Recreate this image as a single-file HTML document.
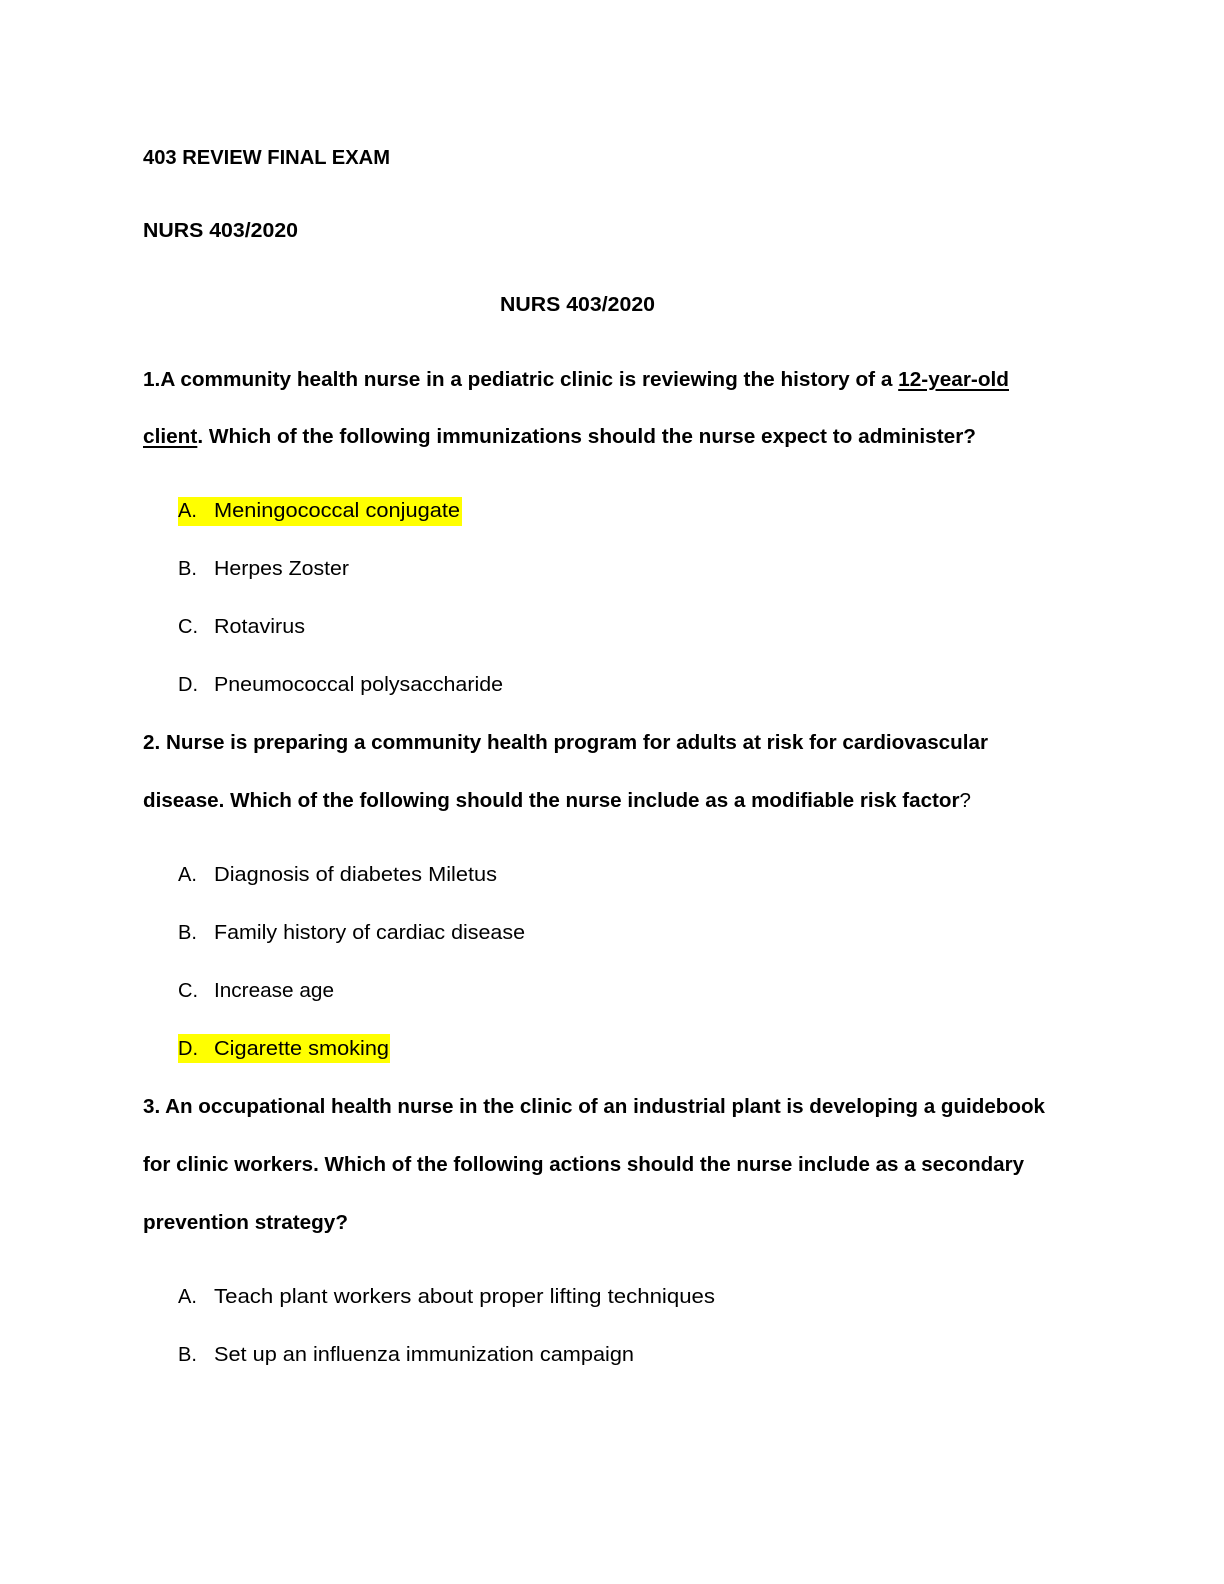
<!DOCTYPE html>
<html><head><meta charset="utf-8">
<style>
html,body{margin:0;padding:0;background:#fff;}
body{width:1224px;height:1584px;position:relative;overflow:hidden;font-family:"Liberation Sans",Arial,sans-serif;color:#000;}
.l{position:absolute;font-size:20px;line-height:28px;white-space:nowrap;transform-origin:0 50%;}
.b{font-weight:bold;}
.k{position:absolute;font-size:20px;line-height:28px;}
.hl{position:absolute;background:#ffff00;}
u{text-decoration-thickness:1.5px;text-underline-offset:3px;}
</style></head><body>
<div class="hl" style="left:178px;top:497px;width:284px;height:29px"></div>
<div class="hl" style="left:178px;top:1034px;width:212px;height:29px"></div>

<div class="l b" style="left:143px;top:144px">403 REVIEW FINAL EXAM</div>
<div class="l b" style="left:143px;top:217px">NURS 403/2020</div>
<div class="l b" style="left:500px;top:291px">NURS 403/2020</div>
<div class="l b" style="left:143px;top:366px">1.A community health nurse in a pediatric clinic is reviewing the history of a <u>12-year-old</u></div>
<div class="l b" style="left:143px;top:423px"><u>client</u>. Which of the following immunizations should the nurse expect to administer?</div>

<div class="k" style="left:178px;top:497px">A.</div><div class="l" style="left:214px;top:497px">Meningococcal conjugate</div>
<div class="k" style="left:178px;top:555px">B.</div><div class="l" style="left:214px;top:555px">Herpes Zoster</div>
<div class="k" style="left:178px;top:613px">C.</div><div class="l" style="left:214px;top:613px">Rotavirus</div>
<div class="k" style="left:178px;top:671px">D.</div><div class="l" style="left:214px;top:671px">Pneumococcal polysaccharide</div>

<div class="l b" style="left:143px;top:729px">2. Nurse is preparing a community health program for adults at risk for cardiovascular</div>
<div class="l b" style="left:143px;top:787px">disease. Which of the following should the nurse include as a modifiable risk factor<span style="font-weight:normal">?</span></div>

<div class="k" style="left:178px;top:861px">A.</div><div class="l" style="left:214px;top:861px">Diagnosis of diabetes Miletus</div>
<div class="k" style="left:178px;top:919px">B.</div><div class="l" style="left:214px;top:919px">Family history of cardiac disease</div>
<div class="k" style="left:178px;top:977px">C.</div><div class="l" style="left:214px;top:977px">Increase age</div>
<div class="k" style="left:178px;top:1035px">D.</div><div class="l" style="left:214px;top:1035px">Cigarette smoking</div>

<div class="l b" style="left:143px;top:1093px">3. An occupational health nurse in the clinic of an industrial plant is developing a guidebook</div>
<div class="l b" style="left:143px;top:1151px">for clinic workers. Which of the following actions should the nurse include as a secondary</div>
<div class="l b" style="left:143px;top:1209px">prevention strategy?</div>

<div class="k" style="left:178px;top:1283px">A.</div><div class="l" style="left:214px;top:1283px">Teach plant workers about proper lifting techniques</div>
<div class="k" style="left:178px;top:1341px">B.</div><div class="l" style="left:214px;top:1341px">Set up an influenza immunization campaign</div>

<script>
var w=[247,155,155,866,833,246,135,91,289,845,828,283,311,120,175,902,881,205,501,420];
var els=document.querySelectorAll('.l');
for(var i=0;i<els.length&&i<w.length;i++){var r=els[i].getBoundingClientRect().width;if(r>0)els[i].style.transform='scaleX('+(w[i]/r)+')';}
</script>
</body></html>
